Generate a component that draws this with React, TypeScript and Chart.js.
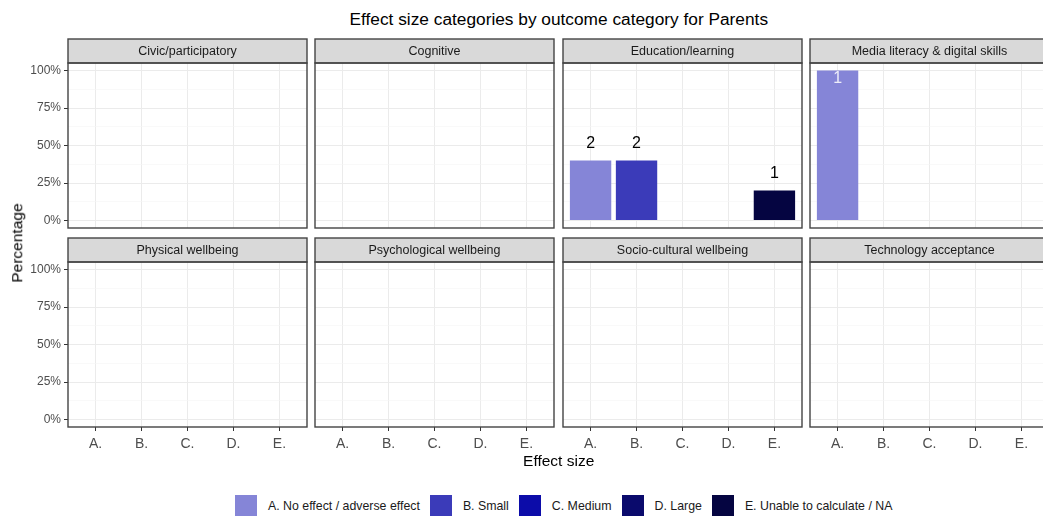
import React, { useEffect, useRef } from 'react';
import { Chart, registerables } from 'chart.js';

Chart.register(...registerables);

// ---------- data ----------
const categories = ['A.', 'B.', 'C.', 'D.', 'E.'];
const legendLabels = [
  'A. No effect / adverse effect',
  'B. Small',
  'C. Medium',
  'D. Large',
  'E. Unable to calculate / NA',
];
const categoryColors = ['#8585d7', '#3b3bb9', '#0c0ca9', '#0a0a6c', '#050541'];

const outcomes = [
  'Civic/participatory',
  'Cognitive',
  'Education/learning',
  'Media literacy & digital skills',
  'Physical wellbeing',
  'Psychological wellbeing',
  'Socio-cultural wellbeing',
  'Technology acceptance',
];

const civicPct = [0, 0, 0, 0, 0];
const cognitivePct = [0, 0, 0, 0, 0];
const educationPct = [40, 40, 0, 0, 20];
const mediaPct = [100, 0, 0, 0, 0];
const physicalPct = [0, 0, 0, 0, 0];
const psychologicalPct = [0, 0, 0, 0, 0];
const socioPct = [0, 0, 0, 0, 0];
const technologyPct = [0, 0, 0, 0, 0];

const civicCounts = [0, 0, 0, 0, 0];
const cognitiveCounts = [0, 0, 0, 0, 0];
const educationCounts = [2, 2, 0, 0, 1];
const mediaCounts = [1, 0, 0, 0, 0];
const physicalCounts = [0, 0, 0, 0, 0];
const psychologicalCounts = [0, 0, 0, 0, 0];
const socioCounts = [0, 0, 0, 0, 0];
const technologyCounts = [0, 0, 0, 0, 0];

const panelPct = [civicPct, cognitivePct, educationPct, mediaPct, physicalPct, psychologicalPct, socioPct, technologyPct];
const panelCounts = [civicCounts, cognitiveCounts, educationCounts, mediaCounts, physicalCounts, psychologicalCounts, socioCounts, technologyCounts];

const yMajorTicks = [0, 25, 50, 75, 100];
const yMinorTicks = [12.5, 37.5, 62.5, 87.5];

// ---------- layout ----------
const FONT = '"Liberation Sans", Arial, Helvetica, sans-serif';
const PLOT_LEFT = [68, 315, 563, 810];
const PLOT_TOP = [63, 262];
const PLOT_W = 239;
const PLOT_H = 165;
const STRIP_H = 24;

const framePlugin = {
  id: 'frame',
  afterDraw(chart: any, _args: any, opts: any) {
    const { ctx, chartArea: a } = chart;
    const w = a.right - a.left;
    const h = a.bottom - a.top;
    ctx.save();
    ctx.fillStyle = '#d9d9d9';
    ctx.fillRect(a.left, a.top - STRIP_H, w, STRIP_H);
    ctx.strokeStyle = '#444444';
    ctx.lineWidth = 1.4;
    ctx.strokeRect(a.left, a.top - STRIP_H, w, STRIP_H);
    ctx.strokeRect(a.left, a.top, w, h);
    ctx.fillStyle = '#1a1a1a';
    ctx.font = `12.5px ${FONT}`;
    ctx.textAlign = 'center';
    ctx.textBaseline = 'middle';
    ctx.fillText(opts.title, a.left + w / 2, a.top - STRIP_H / 2 + 0.5);
    ctx.restore();
  },
};

const labelPlugin = {
  id: 'barLabels',
  afterDatasetsDraw(chart: any, _args: any, opts: any) {
    const { ctx, chartArea: a } = chart;
    const meta = chart.getDatasetMeta(0);
    const data = chart.data.datasets[0].data;
    ctx.save();
    ctx.font = `16px ${FONT}`;
    ctx.textAlign = 'center';
    ctx.textBaseline = 'middle';
    meta.data.forEach((bar: any, i: number) => {
      const d = data[i];
      if (!d || d.y == null) return;
      let y = bar.y - 17;
      let color = '#000000';
      if (y - 9 < a.top) {
        y = bar.y + 8;
        color = 'rgba(255,255,255,0.85)';
      }
      ctx.fillStyle = color;
      ctx.fillText(String(opts.counts[i]), bar.x, y);
    });
    ctx.restore();
  },
};

function makePanel(canvas: HTMLCanvasElement, idx: number) {
  const r = Math.floor(idx / 4);
  const c = idx % 4;
  const leftCol = c === 0;
  const bottomRow = r === 1;
  const pct = panelPct[idx];
  const data = categories.map((_, i) => ({ x: i + 1, y: pct[i] > 0 ? pct[i] : null }));
  return new Chart(canvas, {
    type: 'bar',
    data: {
      datasets: [
        {
          data: data as any,
          backgroundColor: categoryColors,
          borderWidth: 0,
          barPercentage: 0.9,
          categoryPercentage: 1,
        },
      ],
    },
    options: {
      responsive: false,
      animation: false,
      events: [],
      layout: {
        padding: { top: STRIP_H + 1, right: 1, bottom: bottomRow ? 0 : 12, left: leftCol ? 0 : 1 },
      },
      plugins: {
        legend: { display: false },
        tooltip: { enabled: false },
        title: { display: false },
        frame: { title: outcomes[idx] },
        barLabels: { counts: panelCounts[idx] },
      } as any,
      scales: {
        x: {
          type: 'linear',
          min: 0.4,
          max: 5.6,
          offset: false,
          afterBuildTicks: (s: any) => {
            s.ticks = categories.map((_, i) => ({ value: i + 1 }));
          },
          afterFit: (s: any) => {
            s.height = bottomRow ? 40 : 0;
          },
          border: { display: false },
          grid: {
            offset: false,
            color: '#ebebeb',
            lineWidth: 1,
            drawTicks: bottomRow,
            tickLength: 4,
            tickColor: '#333333',
            tickWidth: 1,
          },
          ticks: {
            display: bottomRow,
            autoSkip: false,
            maxRotation: 0,
            padding: 5,
            color: '#4d4d4d',
            font: { size: 14, family: FONT },
            callback: (v: any) => categories[Math.round(Number(v)) - 1] ?? '',
          },
        },
        y: {
          type: 'linear',
          min: -5,
          max: 105,
          afterBuildTicks: (s: any) => {
            s.ticks = [...yMinorTicks, ...yMajorTicks].sort((a, b) => a - b).map((v) => ({ value: v }));
          },
          afterFit: (s: any) => {
            s.width = leftCol ? 60 : 0;
          },
          border: { display: false },
          grid: {
            color: (ctx: any) => (yMajorTicks.includes(ctx.tick?.value) ? '#ebebeb' : '#f5f5f5'),
            lineWidth: (ctx: any) => (yMajorTicks.includes(ctx.tick?.value) ? 1 : 0.6),
            drawTicks: leftCol,
            tickLength: 4,
            tickColor: (ctx: any) => (yMajorTicks.includes(ctx.tick?.value) ? '#333333' : 'rgba(0,0,0,0)'),
            tickWidth: 1,
          },
          ticks: {
            display: leftCol,
            autoSkip: false,
            padding: 3,
            color: '#4d4d4d',
            font: { size: 12, family: FONT },
            callback: (v: any) => (yMajorTicks.includes(Number(v)) ? `${v}%` : ''),
          },
        },
      },
    },
    plugins: [framePlugin, labelPlugin],
  });
}

export default function App() {
  const refs = useRef<(HTMLCanvasElement | null)[]>([]);

  useEffect(() => {
    Chart.defaults.font.family = FONT;
    const charts = outcomes.map((_, i) => makePanel(refs.current[i] as HTMLCanvasElement, i));
    return () => charts.forEach((ch) => ch.destroy());
  }, []);

  return (
    <div
      style={{
        position: 'fixed',
        left: 0,
        top: 0,
        width: 1043,
        height: 516,
        overflow: 'hidden',
        background: '#ffffff',
        fontFamily: FONT,
      }}
    >
      <div
        style={{
          position: 'absolute',
          left: 558.8,
          top: 20,
          transform: 'translate(-50%, -50%)',
          fontSize: 17.3,
          lineHeight: '17.3px',
          color: '#000',
          whiteSpace: 'nowrap',
        }}
      >
        Effect size categories by outcome category for Parents
      </div>
      {outcomes.map((_, i) => {
        const r = Math.floor(i / 4);
        const c = i % 4;
        const padL = c === 0 ? 60 : 1;
        const padB = r === 1 ? 40 : 12;
        const w = padL + PLOT_W + 1;
        const h = STRIP_H + 1 + PLOT_H + padB;
        return (
          <canvas
            key={i}
            ref={(el) => {
              refs.current[i] = el;
            }}
            width={w}
            height={h}
            style={{
              position: 'absolute',
              left: PLOT_LEFT[c] - padL,
              top: PLOT_TOP[r] - STRIP_H - 1,
              width: w,
              height: h,
            }}
          />
        );
      })}
      <div
        style={{
          position: 'absolute',
          left: 558.7,
          top: 461,
          transform: 'translate(-50%, -50%)',
          fontSize: 15.5,
          lineHeight: '15.5px',
          color: '#000',
          whiteSpace: 'nowrap',
        }}
      >
        Effect size
      </div>
      <div
        style={{
          position: 'absolute',
          left: 17,
          top: 243,
          transform: 'translate(-50%, -50%) rotate(-90deg)',
          fontSize: 15.5,
          lineHeight: '15.5px',
          color: '#000',
          whiteSpace: 'nowrap',
        }}
      >
        Percentage
      </div>
      <div
        style={{
          position: 'absolute',
          left: 235,
          top: 495,
          height: 22,
          display: 'flex',
          alignItems: 'center',
          whiteSpace: 'nowrap',
          fontSize: 12.35,
          color: '#1a1a1a',
        }}
      >
        {legendLabels.map((lab, i) => (
          <React.Fragment key={lab}>
            <span style={{ display: 'inline-block', width: 22, height: 22, background: categoryColors[i] }} />
            <span style={{ marginLeft: 11, marginRight: 10 }}>{lab}</span>
          </React.Fragment>
        ))}
      </div>
    </div>
  );
}
